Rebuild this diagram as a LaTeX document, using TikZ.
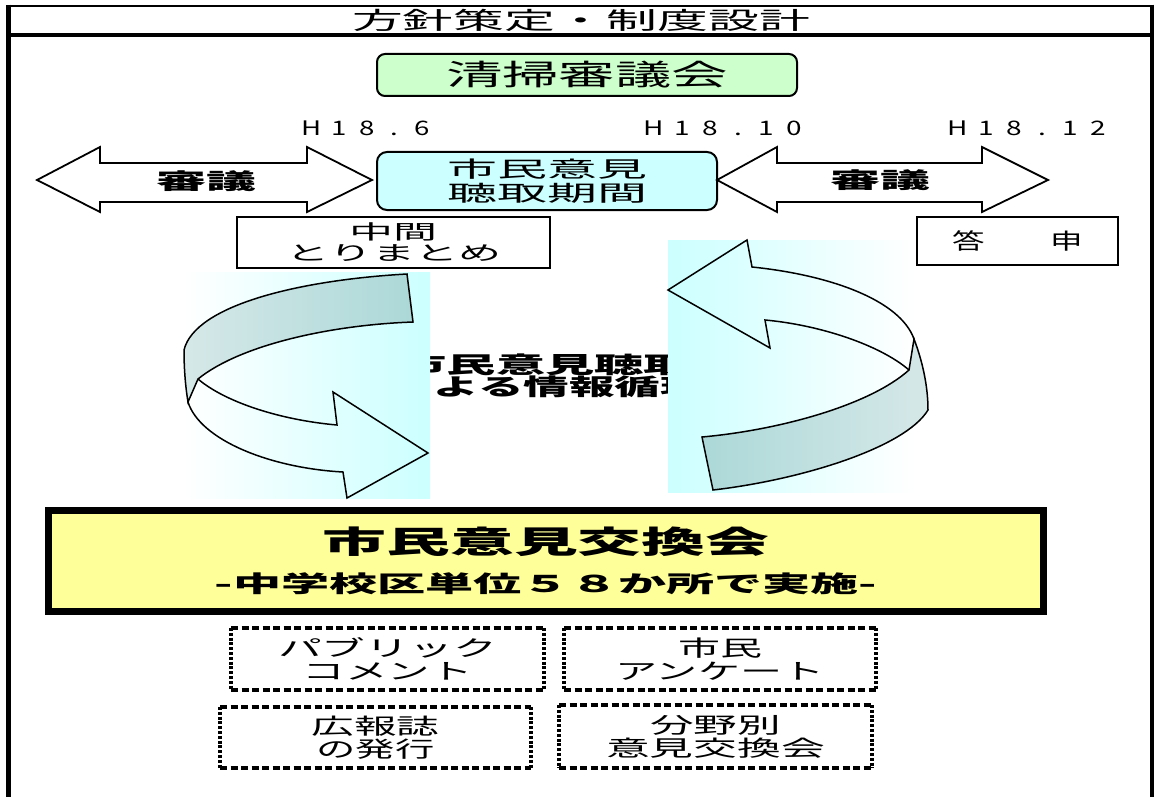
\documentclass[tikz,border=0pt]{standalone}
\usepackage{fontspec}
\setmainfont{Noto Sans CJK JP}
\usepackage{graphicx}
\newcommand\tx[3]{\resizebox{#1pt}{\height}{\fontsize{#2pt}{#2pt}\selectfont #3}}
\newcommand\txb[3]{\resizebox{#1pt}{\height}{\fontsize{#2pt}{#2pt}\selectfont\bfseries #3}}
\newcommand\ch[1]{\makebox[1em]{#1}}
\definecolor{gfill}{HTML}{CCFFCC}
\definecolor{cfill}{HTML}{CCFFFF}
\definecolor{yfill}{HTML}{FFFF99}
\definecolor{bandDark}{RGB}{172,216,216}
\definecolor{bandLight}{RGB}{214,232,232}
\begin{document}
\begin{tikzpicture}[x=1pt,y=-1pt,
  every node/.style={inner sep=0pt,outer sep=0pt},
  plainbox/.style={draw,line width=1.6pt,fill=white,align=center},
  darrow/.style={draw,line width=1.8pt,fill=white},
  curl/.style={draw,line width=1.5pt},
  dotbox/.style={align=center,font=\fontsize{22pt}{23pt}\selectfont},
  hdash/.style={line width=3.5pt,dash pattern=on 7pt off 3.5pt},
  vdash/.style={line width=4pt,dash pattern=on 3pt off 1.8pt}]
\useasboundingbox (0,0) rectangle (1154,797);
\fill[white] (0,0) rectangle (1154,797);
% frame
\draw[line width=2.5pt] (8,6) -- (1152,6);
\draw[line width=4pt] (8,35) -- (1152,35);
\draw[line width=5pt] (8,4.75) -- (8,797);
\draw[line width=4pt] (1152,4.75) -- (1152,797);
\node (title) at (581,20.5) {\tx{458}{24}{方針策定・制度設計}};
% council
\node[draw,line width=2pt,fill=gfill,rounded corners=8pt,minimum width=420pt,minimum height=42pt] (council) at (587,75) {\tx{282}{29}{清掃審議会}};
% dates
\node (h1) at (367,128) {\tx{138}{20}{\ch{H}\ch{1}\ch{8}\ch{.}\ch{6}}};
\node (h2) at (724,128) {\tx{168}{20}{\ch{H}\ch{1}\ch{8}\ch{.}\ch{1}\ch{0}}};
\node (h3) at (1028,128) {\tx{168}{20}{\ch{H}\ch{1}\ch{8}\ch{.}\ch{1}\ch{2}}};
% left double arrow
\draw[darrow] (37,180) -- (100,147) -- (100,163) -- (307,163) -- (307,147) -- (372,180) -- (307,212) -- (307,202) -- (100,202) -- (100,212) -- cycle;
\node (debL) at (206,181) {\txb{100}{22}{審議}};
% hearing period
\node[draw,line width=2pt,fill=cfill,rounded corners=10pt,minimum width=340pt,minimum height=58pt,align=center,font=\fontsize{22pt}{24pt}\selectfont] (period) at (547,181) {\tx{200}{22}{市民意見}\\\tx{200}{22}{聴取期間}};
% right double arrow
\draw[darrow] (717,180) -- (777,147) -- (777,163) -- (982,163) -- (982,147) -- (1048,180) -- (982,212) -- (982,202) -- (777,202) -- (777,212) -- cycle;
\node (debR) at (880,180) {\txb{100}{22}{審議}};
% interim / report
\node[plainbox,minimum width=313pt,minimum height=51pt,font=\fontsize{20pt}{21pt}\selectfont] (interim) at (393.5,242.5) {\tx{88}{20}{中間}\\\tx{215}{20}{とりまとめ}};
\node[plainbox,minimum width=201pt,minimum height=48pt] (report) at (1017.5,241) {\tx{130}{22}{答　　申}};
% centre text (partly hidden)
\node[align=center,font=\fontsize{23pt}{22pt}\selectfont] (cycle) at (570,376) {\txb{345}{23}{市民意見聴取に}\\\txb{272}{23}{よる情報循環}};
% gradient backgrounds
\shade[left color=white,right color=cfill] (183,272) rectangle (430,498);
\shade[left color=cfill,right color=white] (668,240) rectangle (915,492);
% left curl
\shade[curl,left color=bandLight,right color=bandDark] (407,274) .. controls (300,280) and (195,305) .. (184,350) .. controls (184,372) and (186,390) .. (188,402) -- (198,379) .. controls (240,345) and (330,325) .. (413,322) -- cycle;
\draw[curl] (198,379) .. controls (225,402) and (280,420) .. (337,425) -- (333,392) -- (428,453) -- (347,498) -- (343,472) .. controls (270,468) and (200,440) .. (188,402);
% right curl
\shade[curl,left color=bandDark,right color=bandLight] (914,339) .. controls (922,360) and (928,385) .. (928,410) .. controls (905,448) and (800,480) .. (713,490) -- (702,437) .. controls (780,430) and (870,405) .. (909,370) -- cycle;
\draw[curl] (909,370) .. controls (880,345) and (820,325) .. (765,320) -- (770,348) -- (668,290) -- (747,240) -- (752,267) .. controls (830,275) and (900,300) .. (914,339);
% exchange meetings
\node[draw,line width=7pt,fill=yfill,minimum width=995pt,minimum height=101pt,align=center,font=\fontsize{31pt}{39pt}\selectfont] (meeting) at (546,560.5) {\txb{447}{31}{市民意見交換会}\\\txb{662}{23}{-中学校区単位５８か所で実施-}};
% dotted boxes
\node[dotbox,minimum width=313pt,minimum height=62pt] (pc) at (387.5,659) {\tx{219}{22}{パブリック}\\\tx{170}{22}{コメント}};
\node[dotbox,minimum width=312pt,minimum height=62pt] (survey) at (720,659) {\tx{84}{22}{市民}\\\tx{209}{22}{アンケート}};
\node[dotbox,minimum width=311pt,minimum height=61pt] (pr) at (375.5,737.5) {\tx{128}{22}{広報誌}\\\tx{118}{22}{の発行}};
\node[dotbox,minimum width=313pt,minimum height=63pt] (field) at (715.5,736.5) {\tx{131}{22}{分野別}\\\tx{219}{22}{意見交換会}};
\foreach \b in {pc,survey,pr,field}{
  \draw[hdash] (\b.north west) -- (\b.north east);
  \draw[hdash] (\b.south west) -- (\b.south east);
  \draw[vdash] (\b.north west) -- (\b.south west);
  \draw[vdash] (\b.north east) -- (\b.south east);
}
\end{tikzpicture}
\end{document}
